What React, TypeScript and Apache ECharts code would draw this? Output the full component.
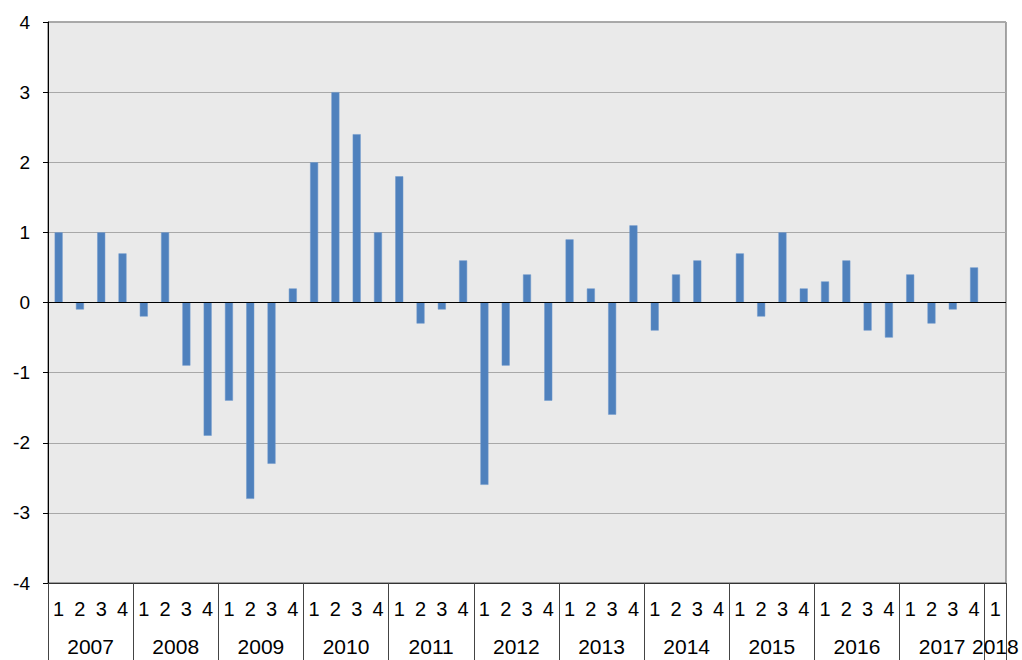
import React, { useEffect, useRef } from "react";
import * as echarts from "echarts";

const years = ["2007", "2008", "2009", "2010", "2011", "2012", "2013", "2014", "2015", "2016", "2017", "2018"];
const quartersPerYear = [4, 4, 4, 4, 4, 4, 4, 4, 4, 4, 4, 1];
const values = [
  1, -0.1, 1, 0.7,
  -0.2, 1, -0.9, -1.9,
  -1.4, -2.8, -2.3, 0.2,
  2, 3, 2.4, 1,
  1.8, -0.3, -0.1, 0.6,
  -2.6, -0.9, 0.4, -1.4,
  0.9, 0.2, -1.6, 1.1,
  -0.4, 0.4, 0.6, 0,
  0.7, -0.2, 1, 0.2,
  0.3, 0.6, -0.4, -0.5,
  0.4, -0.3, -0.1, 0.5,
  0,
];
const yTicks = { min: -4, max: 4, interval: 1 };

const FONT = "Liberation Sans, Arial, sans-serif";

export default function App() {
  const ref = useRef<HTMLDivElement>(null);
  useEffect(() => {
    if (!ref.current) return;
    const chart = echarts.init(ref.current, null, { renderer: "svg" });

    // quarter categories
    const quarterLabels: string[] = [];
    years.forEach((y, i) => {
      for (let q = 1; q <= quartersPerYear[i]; q++) quarterLabels.push(String(q));
    });
    const n = quarterLabels.length;

    // half-step boundary axis (2n+1 points) for year labels and separators
    const halfData: string[] = new Array(2 * n + 1).fill("");
    const sepIdx = new Set<number>();
    let start = 0;
    years.forEach((y, i) => {
      const len = quartersPerYear[i];
      sepIdx.add(2 * start);
      halfData[2 * start + len] = y;
      start += len;
    });
    sepIdx.add(2 * start);

    chart.setOption({
      animation: false,
      grid: {
        left: 48,
        right: 16,
        top: 22,
        bottom: 77,
        show: true,
        backgroundColor: "#eaeaea",
        borderColor: "#555",
        borderWidth: 1,
      },
      xAxis: [
        {
          type: "category",
          data: quarterLabels,
          position: "bottom",
          boundaryGap: true,
          axisLine: { show: true, onZero: false, lineStyle: { color: "#333", width: 1 } },
          axisTick: { show: false },
          axisLabel: {
            interval: 0,
            margin: 16,
            fontSize: 20,
            color: "#000",
            fontFamily: FONT,
          },
          splitLine: { show: false },
        },
        {
          type: "category",
          data: halfData,
          position: "bottom",
          offset: 0,
          boundaryGap: false,
          axisLine: { show: false, onZero: false },
          axisTick: {
            show: true,
            interval: (idx: number) => sepIdx.has(idx),
            length: 77,
            lineStyle: { color: "#444", width: 1 },
          },
          axisLabel: {
            interval: 0,
            margin: 53,
            fontSize: 21,
            color: "#000",
            fontFamily: FONT,
          },
          splitLine: { show: false },
        },
      ],
      yAxis: {
        type: "value",
        min: yTicks.min,
        max: yTicks.max,
        interval: yTicks.interval,
        axisLine: { show: true, onZero: false, lineStyle: { color: "#000", width: 1 } },
        axisTick: { show: true, length: 5, lineStyle: { color: "#000" } },
        axisLabel: { margin: 18, fontSize: 19, color: "#000", fontFamily: FONT },
        splitLine: { show: true, lineStyle: { color: "#a8a8a8", width: 1 } },
      },
      series: [
        {
          type: "bar",
          xAxisIndex: 0,
          data: values,
          barWidth: 8,
          itemStyle: { color: "#4f81bd", borderColor: "#6e98cc", borderWidth: 0.5 },
          markLine: {
            silent: true,
            symbol: ["none", "none"],
            label: { show: false },
            lineStyle: { color: "#000", width: 1, type: "solid" },
            data: [{ yAxis: 0 }],
          },
        },
      ],
    });
    return () => chart.dispose();
  }, []);
  return (
    <div
      ref={ref}
      style={{ position: "fixed", left: 0, top: 0, width: 1022, height: 660, background: "#fff" }}
    />
  );
}
